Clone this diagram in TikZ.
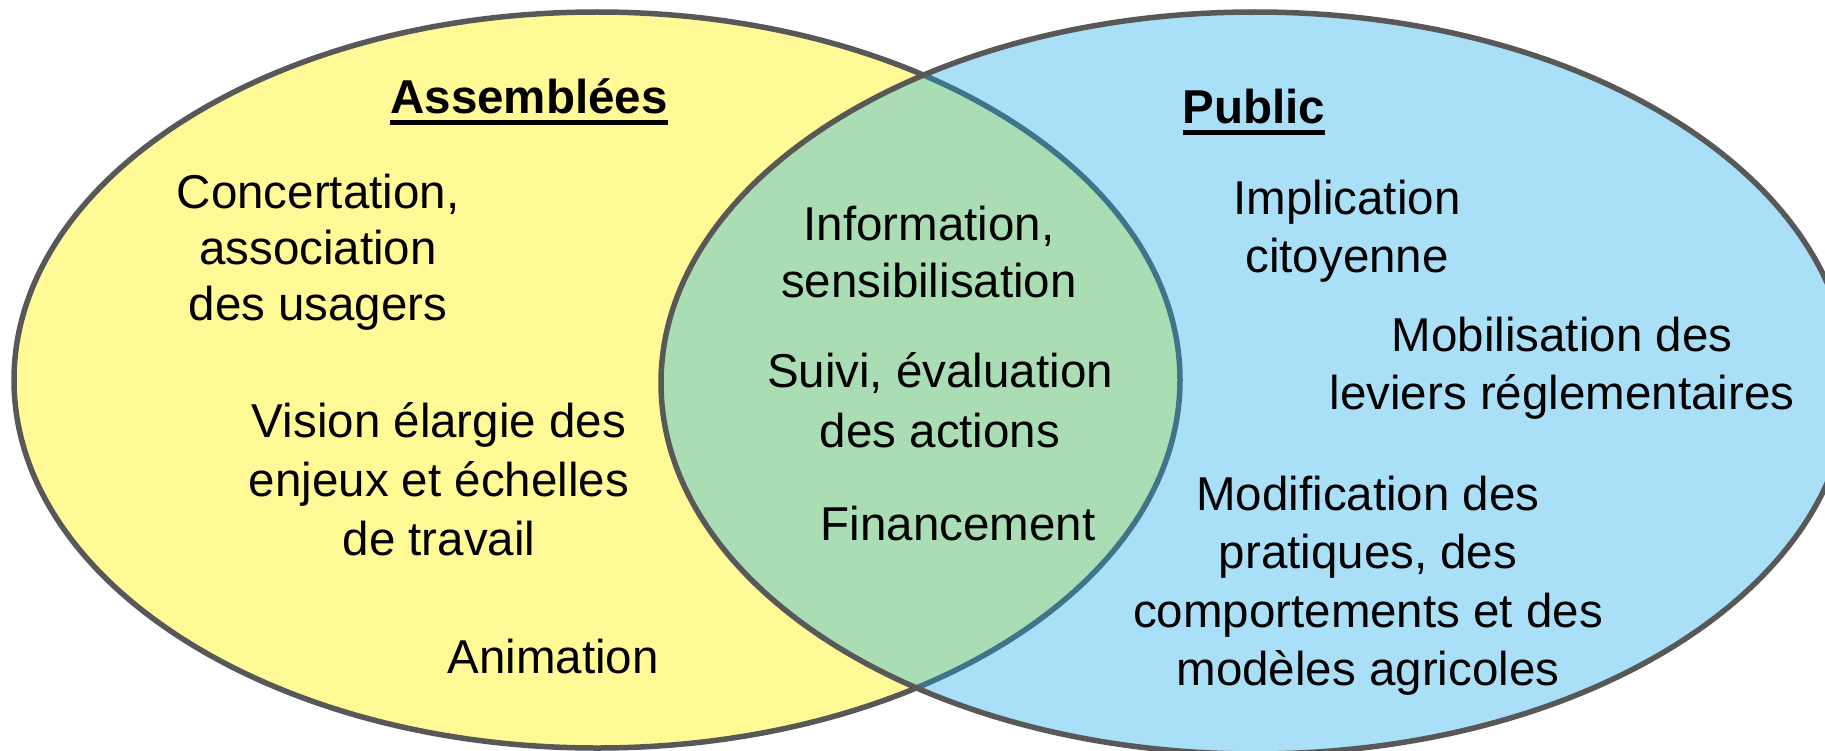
\documentclass[tikz,border=0pt]{standalone}
\usepackage{fontspec}
\setmainfont{Liberation Sans}
\definecolor{yel}{RGB}{255,250,150}
\definecolor{sky}{RGB}{20,170,232}
\definecolor{ringgray}{RGB}{88,88,88}
\newcommand\vennblock[2]{{\fontsize{47.5bp}{#1bp}\selectfont\begin{tabular}[t]{@{}c@{}}#2\end{tabular}}}
\begin{document}
\begin{tikzpicture}[x=1bp,y=-1bp,
  txt/.style={anchor=base, inner sep=0pt, font=\fontsize{47.5bp}{57.5bp}\selectfont},
  ttl/.style={anchor=base, inner sep=0pt, font=\fontsize{47.5bp}{57.5bp}\selectfont\bfseries},
  uline/.style={line width=4.5bp, black},
  venn/.style={draw=ringgray, line width=5.5bp}]
\useasboundingbox (0,0) rectangle (1825,751);
\clip (0,0) rectangle (1825,751);
% left set
\fill[yel] (597,380) ellipse [x radius=583, y radius=368];
\draw[venn] (597,380) ellipse [x radius=583, y radius=368];
% right set (translucent, overlap turns green)
\fill[sky, fill opacity=0.36] (1255,383) ellipse [x radius=594, y radius=371];
\draw[venn] (1255,383) ellipse [x radius=594, y radius=371];
% titles
\node[ttl] (tA) at (529,113) {Assemblées};
\draw[uline] ([yshift=-9.5bp]tA.base west) -- ([yshift=-9.5bp]tA.base east);
\node[ttl] (tP) at (1254,123) {Public};
\draw[uline] ([yshift=-9.5bp]tP.base west) -- ([yshift=-9.5bp]tP.base east);
% left texts
\node[txt] (concert) at (318,208) {\vennblock{56}{Concertation,\\association\\des usagers}};
\node[txt] (vision) at (439,437) {\vennblock{59}{Vision élargie des\\enjeux et échelles\\de travail}};
\node[txt] (anim) at (553,673) {Animation};
% common texts
\node[txt] (info) at (929,240) {\vennblock{57}{Information,\\sensibilisation}};
\node[txt] (suivi) at (940,387) {\vennblock{60}{Suivi, évaluation\\des actions}};
\node[txt] (fin) at (958,540) {Financement};
% right texts
\node[txt] (impl) at (1347,214) {\vennblock{58}{Implication\\citoyenne}};
\node[txt] (mobil) at (1562,351) {\vennblock{58}{Mobilisation des\\leviers réglementaires}};
\node[txt] (modif) at (1368,510) {\vennblock{58.5}{Modification des\\pratiques, des\\comportements et des\\modèles agricoles}};
\end{tikzpicture}
\end{document}
